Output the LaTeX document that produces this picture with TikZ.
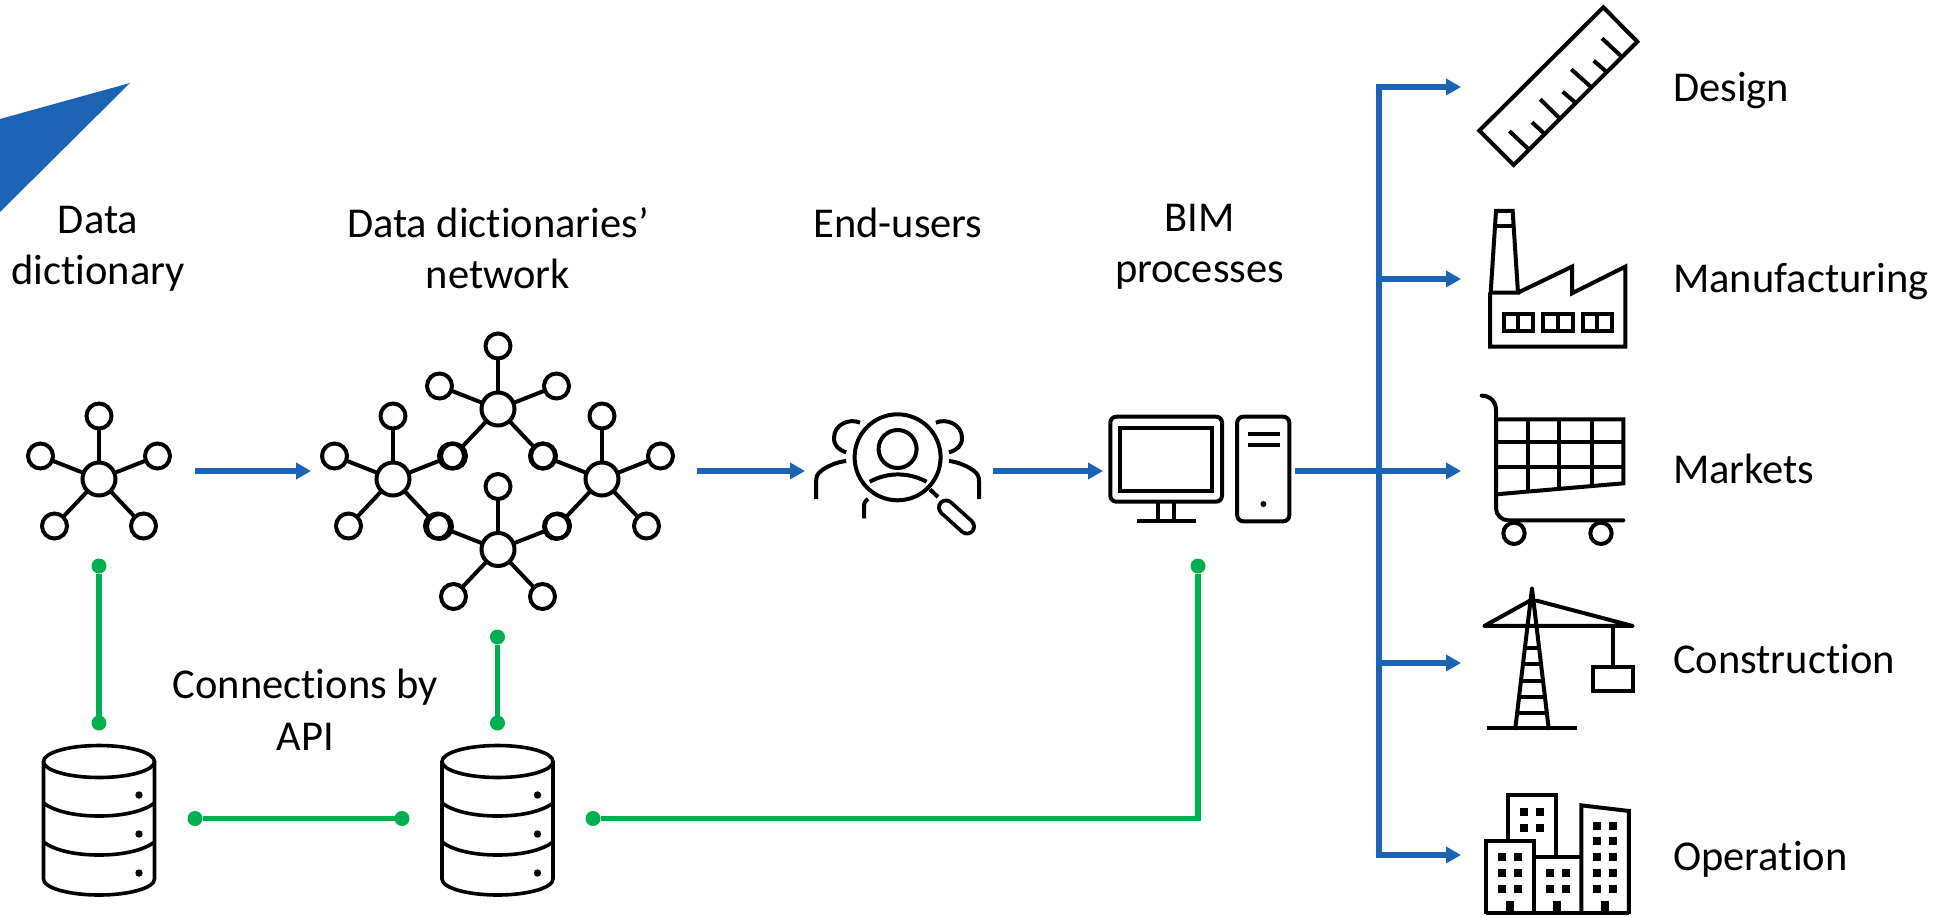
\documentclass[tikz,border=0pt]{standalone}
\usepackage{fontspec}
\setmainfont{Carlito}[Ligatures=NoCommon]
\usetikzlibrary{arrows.meta,calc}
\definecolor{bluec}{HTML}{1C62B5}
\definecolor{greenc}{HTML}{00B050}
\tikzset{
 lbl/.style={font=\fontsize{42.5}{51.5}\selectfont,align=center,text=black,inner sep=0pt},
 lblbase/.style={lbl,anchor=base},
 lblleft/.style={lbl,anchor=base west},
 hub/.style={circle,draw=black,line width=4pt,minimum size=33pt,inner sep=0pt,outer sep=0pt},
 sat/.style={circle,draw=black,line width=4pt,minimum size=25pt,inner sep=0pt,outer sep=0pt},
 spoke/.style={draw=black,line width=4pt},
 icon/.style={draw=black,line width=4pt,line join=miter},
 dbline/.style={draw=black,line width=3.6pt},
 bluearrow/.style={draw=bluec,line width=5.5pt,-{Triangle[length=15pt,width=16pt]}},
 blueline/.style={draw=bluec,line width=5.5pt},
 greenline/.style={draw=greenc,line width=5.5pt},
 gdot/.style={circle,fill=greenc,minimum size=15pt,inner sep=0pt,outer sep=0pt},
 bdot/.style={circle,fill=black,minimum size=7pt,inner sep=0pt},
}
\newcommand{\starnet}[3]{%
 \node[hub] (#1h) at (#2,#3) {};
 \node[sat] (#1a) at ($(#2,#3)+(0,-63)$) {};
 \node[sat] (#1b) at ($(#2,#3)+(-58.5,-23)$) {};
 \node[sat] (#1c) at ($(#2,#3)+(58.5,-23)$) {};
 \node[sat] (#1d) at ($(#2,#3)+(-44.5,47)$) {};
 \node[sat] (#1e) at ($(#2,#3)+(44.5,47)$) {};
 \foreach \s in {a,b,c,d,e} {\draw[spoke] (#1h) -- (#1\s);}
}
\begin{document}
\begin{tikzpicture}[x=1pt,y=-1pt]
\useasboundingbox (0,0) rectangle (1939,916);
% blue triangle
\fill[bluec] (0,119) -- (130,83) -- (0,212) -- cycle;
% labels
\node[lbl] (t1) at (98,249) {Data\\dictionary};
\node[lbl] (t2) at (498,248) {Data dictionaries’\\network};
\node[lblbase] (t3) at (898,237) {End-users};
\node[lbl] (t4) at (1199.5,247) {BIM\\processes};
\node[lbl] (t5) at (305.5,709.5) {Connections by\\API};
\node[lblleft] (l1) at (1673,101) {Design};
\node[lblleft] (l2) at (1673,292) {Manufacturing};
\node[lblleft] (l3) at (1673,483) {Markets};
\node[lblleft] (l4) at (1673,673) {Construction};
\node[lblleft] (l5) at (1673,870) {Operation};
% networks
\starnet{p}{99}{479}
\starnet{q}{498}{409}
\starnet{r}{393}{479}
\starnet{s}{602}{479}
\starnet{u}{498}{549.5}
% blue arrows
\coordinate (a1s) at (195,471); \coordinate (a1e) at (311,471);
\coordinate (a2s) at (697,471); \coordinate (a2e) at (805,471);
\coordinate (a3s) at (993,471); \coordinate (a3e) at (1103,471);
\coordinate (a4s) at (1295,471); \coordinate (tr) at (1379,471);
\coordinate (tt) at (1379,87); \coordinate (tb) at (1379,855);
\coordinate (e1) at (1461,87); \coordinate (e2) at (1461,279);
\coordinate (e3) at (1461,471); \coordinate (e4) at (1461,663);
\coordinate (e5) at (1461,855); \coordinate (t2c) at (1379,279); \coordinate (t4c) at (1379,663);
\draw[bluearrow] (a1s) -- (a1e);
\draw[bluearrow] (a2s) -- (a2e);
\draw[bluearrow] (a3s) -- (a3e);
\draw[bluearrow] (a4s) -- (e3);
\draw[bluearrow] (tt) -- (e1);
\draw[bluearrow] (t2c) -- (e2);
\draw[bluearrow] (t4c) -- (e4);
\draw[bluearrow] (tb) -- (e5);
\draw[blueline,line cap=rect] (tt) -- (tb);
% green connectors
\node[gdot] (g1) at (99,566) {};
\node[gdot] (g2) at (99,723) {};
\node[gdot] (g3) at (497.5,637) {};
\node[gdot] (g4) at (497.5,723) {};
\node[gdot] (g5) at (195,818.5) {};
\node[gdot] (g6) at (402,818.5) {};
\node[gdot] (g7) at (593,818.5) {};
\node[gdot] (g8) at (1198,566) {};
\draw[greenline] (g1) -- (g2);
\draw[greenline] (g3) -- (g4);
\draw[greenline] (g5) -- (g6);
\draw[greenline] (g7) -| (g8);
% databases
\foreach \dbx in {99,497.5} {
 \draw[dbline] (\dbx,761.5) ellipse (55.5pt and 16pt);
 \draw[dbline] (\dbx-55.5,761.5) -- (\dbx-55.5,879) .. controls (\dbx-55.5,888) and (\dbx-30,895) .. (\dbx,895) .. controls (\dbx+30,895) and (\dbx+55.5,888) .. (\dbx+55.5,879) -- (\dbx+55.5,761.5);
 \draw[dbline] (\dbx-55.5,803) .. controls (\dbx-45,811) and (\dbx-25,816) .. (\dbx,816) .. controls (\dbx+25,816) and (\dbx+45,811) .. (\dbx+55.5,803);
 \draw[dbline] (\dbx-55.5,842) .. controls (\dbx-45,850) and (\dbx-25,855) .. (\dbx,855) .. controls (\dbx+25,855) and (\dbx+45,850) .. (\dbx+55.5,842);
 \fill[black] (\dbx+40,795) circle (3.7pt);
 \fill[black] (\dbx+40,834) circle (3.7pt);
 \fill[black] (\dbx+40,873) circle (3.7pt);
}
% users icon
\draw[icon] (897.6,457.3) circle (43pt);
\draw[icon] (897.6,449) circle (19pt);
\draw[icon] (869.7,481.7) .. controls (888,472) and (908,472) .. (926.6,481.7);
\draw[icon] (930,489.3) -- (938,497);
\draw[black,line width=18pt,line cap=round] (946,507.5) -- (967,526.5);
\draw[white,line width=10.5pt,line cap=round] (946,507.5) -- (967,526.5);
\draw[icon] (860,422.7) .. controls (850,418) and (834,424) .. (834,438) .. controls (834,446) and (839,450) .. (846.2,452.3);
\draw[icon] (935.9,422.7) .. controls (946,418) and (962,424) .. (962,438) .. controls (962,446) and (957,450) .. (949,452.3);
\draw[icon] (846.2,461) .. controls (836,462) and (826,467) .. (821,471) .. controls (817,474) and (816.2,477) .. (816.2,481) -- (816.2,499);
\draw[icon] (949,461) .. controls (959,462) and (969,467) .. (974,471) .. controls (978,474) and (979,477) .. (979,481) -- (979,499);
\draw[icon] (864,518.3) -- (864,507) .. controls (864,503) and (865,501) .. (868,499);
% computer
\draw[icon,rounded corners=6pt] (1110.3,416.7) rectangle (1222,501.7);
\draw[icon] (1120.3,427.7) rectangle (1212,491);
\draw[icon] (1158,501.7) -- (1158,520.7);
\draw[icon] (1174,501.7) -- (1174,520.7);
\draw[icon] (1136.6,520.7) -- (1196,520.7);
\draw[icon,rounded corners=6pt] (1237.2,416.7) rectangle (1289.3,521.3);
\draw[icon] (1247.6,434) -- (1279.7,434);
\draw[icon] (1247.6,445) -- (1279.7,445);
\fill[black] (1263.4,504) circle (3pt);
% ruler
\begin{scope}[shift={(1440,0)},x=0.3333pt,y=-0.3333pt]
\draw[draw=black,line width=4pt] (490,22) -- (592,125) -- (221,495) -- (118,392) -- cycle;
\foreach \a/\b/\c/\d in {265/447/208/393,312/400/276/367,358/354/301/298,405/307/368/275,452/260/394/208,498/214/461/182,545/170/486/115}
 \draw[draw=black,line width=4pt] (\a,\b) -- (\c,\d);
% factory
\draw[draw=black,line width=4pt] (152,878) -- (168,633) -- (218,633) -- (234,878) -- cycle;
\draw[draw=black,line width=4pt] (165,678) -- (221,678);
\draw[draw=black,line width=4pt] (150,878) -- (150,1040) -- (556,1040) -- (556,800) -- (396,880) -- (396,800) -- (234,878);
\foreach \a/\b in {192/278,310/398,428/516}{
 \draw[draw=black,line width=4pt] (\a,942) rectangle (\b,993);
 \draw[draw=black,line width=4pt] ({(\a+\b)/2},942) -- ({(\a+\b)/2},993);
}
\end{scope}
\begin{scope}[shift={(1440,380)},x=0.3333pt,y=-0.3333pt]
% cart
\draw[draw=black,line width=4pt,line cap=round] (125,47) .. controls (150,47) and (168,65) .. (168,90) -- (168,385) .. controls (168,405) and (185,421) .. (205,421) -- (550,421);
\draw[draw=black,line width=4pt] (168,118) -- (550,118) -- (550,310) -- (168,343);
\draw[draw=black,line width=4pt] (168,187) -- (550,187);
\draw[draw=black,line width=4pt] (168,260) -- (550,260);
\draw[draw=black,line width=4pt] (264,118) -- (264,335);
\draw[draw=black,line width=4pt] (358,118) -- (358,326);
\draw[draw=black,line width=4pt] (455,118) -- (455,318);
\draw[draw=black,line width=4pt] (222,460) circle (32);
\draw[draw=black,line width=4pt] (483,460) circle (32);
% crane
\draw[draw=black,line width=4pt,line join=round,line cap=round] (226,1045) -- (276,625) -- (326,1045);
\draw[draw=black,line width=4pt] (140,1045) -- (412,1045);
\foreach \yy/\hw in {803/25,853/31,903/37,950/43,998/49}
 \draw[draw=black,line width=4pt] ({276-\hw},\yy) -- ({276+\hw},\yy);
\draw[draw=black,line width=4pt,line join=round,line cap=round] (270,662) -- (133,738) -- (578,738) -- (290,662);
\draw[draw=black,line width=4pt] (520,738) -- (520,860);
\draw[draw=black,line width=4pt] (460,860) rectangle (580,933);
\end{scope}
% buildings
\begin{scope}[shift={(1440,740)},x=0.3333pt,y=-0.3333pt]
\draw[draw=black,line width=4pt] (139,522) -- (139,303) -- (283,303) -- (283,522);
\draw[draw=black,line width=4pt] (204,303) -- (204,166) -- (347,166) -- (347,350);
\draw[draw=black,line width=4pt] (283,350) -- (424,350);
\draw[draw=black,line width=4pt] (424,522) -- (424,196) -- (567,213) -- (567,522);
\draw[draw=black,line width=4pt] (139,520) -- (567,520);
\foreach \a/\b in {252/216,300/216,252/264,300/264,186/351,234/351,186/399,234/399,186/447,234/447,330/399,378/399,330/447,378/447,471/258,519/258,471/303,519/303,471/351,519/351,471/399,519/399,471/447,519/447}
 \fill[black] (\a-12,\b-12) rectangle (\a+12,\b+12);
\foreach \a in {210,352,496}
 \fill[black] (\a-12,483) rectangle (\a+12,522);
\end{scope}
\end{tikzpicture}
\end{document}
